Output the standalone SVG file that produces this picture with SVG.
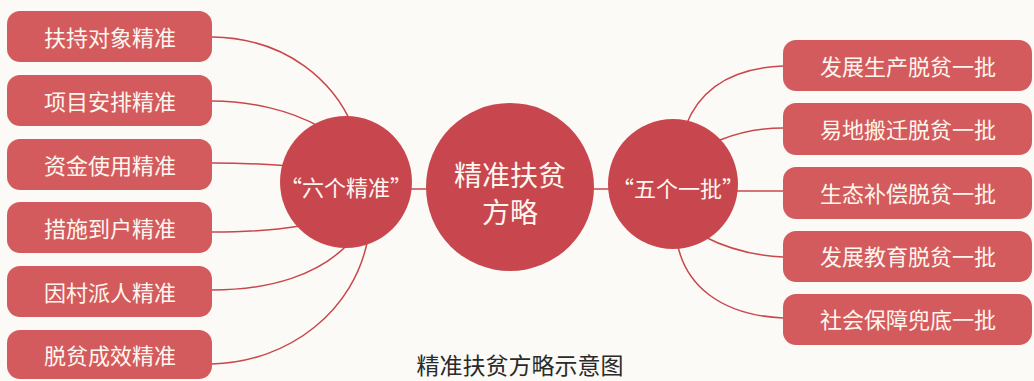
<svg xmlns="http://www.w3.org/2000/svg" width="1034" height="381" viewBox="0 0 1034 381">
<defs>
<style>
.box{fill:#d35b5e;}
.circ{fill:#c8474f;}
.lbl{font-family:"Noto Sans CJK SC","Noto Sans",sans-serif;fill:#fff6ee;font-size:22px;text-anchor:middle;}
.big{font-size:28px;}
.conn{fill:none;stroke:#c8474c;stroke-width:1.5;}
.cap{font-family:"Noto Sans CJK SC",serif;fill:#2a2a2a;font-size:23px;text-anchor:middle;}
</style>
</defs>
<rect x="0" y="0" width="1034" height="381" fill="#fcfaf6"/>
<g id="connectors">
<path class="conn" d="M212,37 C290,38 335,85 352,125"/>
<path class="conn" d="M212,101 C250,101 290,110 320,127"/>
<path class="conn" d="M212,163 C240,163 265,164 290,166"/>
<path class="conn" d="M212,232 C240,232 270,231 300,226"/>
<path class="conn" d="M212,290 C270,290 320,275 350,242"/>
<path class="conn" d="M212,364 C290,362 355,310 368,238"/>
<path class="conn" d="M405,189 L615,189"/>
<path class="conn" d="M783,66 C730,68 700,90 686,125"/>
<path class="conn" d="M783,128 C760,128 740,132 720,140"/>
<path class="conn" d="M730,191 L783,191"/>
<path class="conn" d="M783,257 C760,256 730,250 703,236"/>
<path class="conn" d="M783,318 C720,315 685,285 677,242"/>
</g>
<g id="n-l1"><rect class="box" x="7" y="11" width="205" height="51" rx="13"/><text class="lbl" x="110" y="46">扶持对象精准</text></g>
<g id="n-l2"><rect class="box" x="7" y="75" width="205" height="51" rx="13"/><text class="lbl" x="110" y="110">项目安排精准</text></g>
<g id="n-l3"><rect class="box" x="7" y="139" width="205" height="51" rx="13"/><text class="lbl" x="110" y="174">资金使用精准</text></g>
<g id="n-l4"><rect class="box" x="7" y="202" width="205" height="51" rx="13"/><text class="lbl" x="110" y="237">措施到户精准</text></g>
<g id="n-l5"><rect class="box" x="7" y="266" width="205" height="51" rx="13"/><text class="lbl" x="110" y="301">因村派人精准</text></g>
<g id="n-l6"><rect class="box" x="7" y="330" width="205" height="49" rx="13"/><text class="lbl" x="110" y="364">脱贫成效精准</text></g>
<g id="n-six"><circle class="circ" cx="346" cy="182" r="66"/><text class="lbl" x="346" y="196">“六个精准”</text></g>
<g id="n-center"><circle class="circ" cx="510" cy="187" r="84"/><text class="lbl big" x="510" y="186">精准扶贫</text><text class="lbl big" x="510" y="223">方略</text></g>
<g id="n-five"><circle class="circ" cx="673" cy="184" r="65"/><text class="lbl" x="678" y="197">“五个一批”</text></g>
<g id="n-r1"><rect class="box" x="783" y="40" width="249" height="51" rx="13"/><text class="lbl" x="908" y="75">发展生产脱贫一批</text></g>
<g id="n-r2"><rect class="box" x="783" y="103" width="249" height="52" rx="13"/><text class="lbl" x="908" y="138">易地搬迁脱贫一批</text></g>
<g id="n-r3"><rect class="box" x="783" y="167" width="249" height="52" rx="13"/><text class="lbl" x="908" y="202">生态补偿脱贫一批</text></g>
<g id="n-r4"><rect class="box" x="783" y="231" width="249" height="51" rx="13"/><text class="lbl" x="908" y="265">发展教育脱贫一批</text></g>
<g id="n-r5"><rect class="box" x="783" y="294" width="249" height="51" rx="13"/><text class="lbl" x="908" y="328">社会保障兜底一批</text></g>
<text class="cap" x="520" y="374">精准扶贫方略示意图</text>
</svg>
